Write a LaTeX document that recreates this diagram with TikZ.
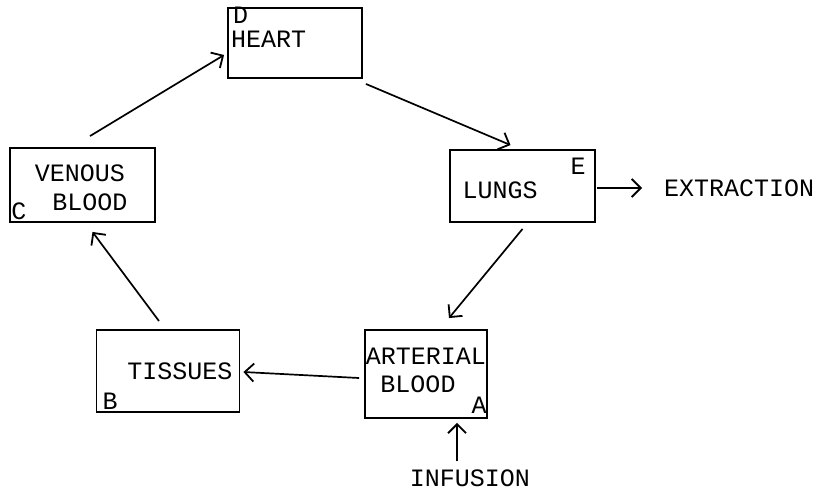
\documentclass[tikz,border=0pt]{standalone}
\usepackage{fontspec}
\setmonofont{Liberation Mono}
\usetikzlibrary{calc,arrows.meta}
\tikzset{
  box/.style={draw, line width=1.9pt, inner sep=0pt},
  lbl/.style={font=\ttfamily\fontsize{25}{29}\selectfont, inner sep=0pt, align=center},
  conn/.style={line width=1.7pt, -{Straight Barb[length=9pt,width=18pt,line width=1.8pt]}}
}
\begin{document}
\begin{tikzpicture}[x=1pt,y=-1pt]
\useasboundingbox (0,0) rectangle (821,496);
% boxes
\node[box, minimum width=134pt, minimum height=70pt] (heart) at (295,43) {};
\node[box, minimum width=145pt, minimum height=74pt] (venous) at (82.5,185) {};
\node[box, minimum width=145pt, minimum height=72pt] (lungs) at (522.5,186) {};
\node[box, minimum width=143pt, minimum height=82pt] (tissues) at (168,371) {};
\node[box, minimum width=122pt, minimum height=88pt] (arterial) at (426,374) {};
% labels
\node[lbl, anchor=west] (dl) at (233,15) {D};
\node[lbl, anchor=west] (hl) at (231,39) {HEART};
\node[lbl] (vl1) at (80,173) {VENOUS};
\node[lbl] (vl2) at (90,202) {BLOOD};
\node[lbl] (cl) at (19,211) {C};
\node[lbl] (ll) at (500,190) {LUNGS};
\node[lbl] (el) at (578,166) {E};
\node[lbl] (tl) at (180,371) {TISSUES};
\node[lbl] (bl) at (110,401) {B};
\node[lbl] (al1) at (426,356) {ARTERIAL};
\node[lbl] (al2) at (418,384) {BLOOD};
\node[lbl] (aal) at (479,405) {A};
\node[lbl] (inf) at (470,478) {INFUSION};
\node[lbl, anchor=west] (ext) at (664,188) {EXTRACTION};
% connectors
\coordinate (v1) at ($(venous.north)+(7.5,-11)$);
\draw[conn] (v1) -- ($(heart.west)+(-3,12)$);
\draw[conn] ($(heart.south east)+(3,5)$) -- ($(lungs.north)+(-12,-4)$);
\draw[conn] ($(lungs.south)+(0,6)$) -- ($(arterial.north)+(23,-11)$);
\draw[conn] ($(arterial.west)+(-5,4)$) -- ($(tissues.east)+(3,1)$);
\draw[conn] ($(tissues.north)+(-9,-8)$) -- ($(venous.south)+(10,9)$);
\draw[conn] ($(inf.north)+(-13,-8)$) -- ($(arterial.south)+(31,4)$);
\draw[conn] ($(lungs.east)+(1,2)$) -- ($(ext.west)+(-22,0)$);
\end{tikzpicture}
\end{document}
